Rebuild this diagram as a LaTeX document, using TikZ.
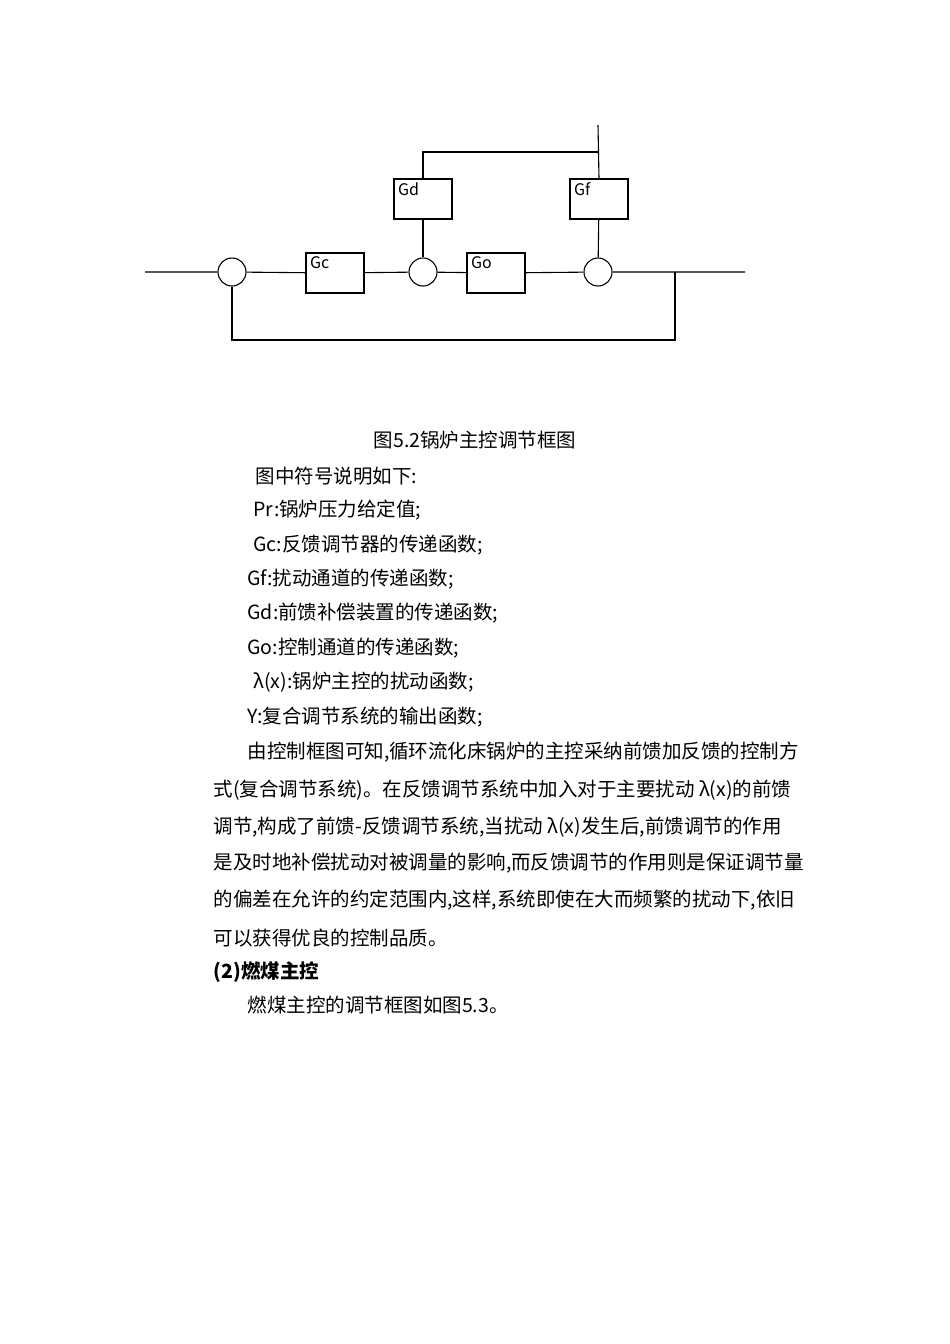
\documentclass[tikz,border=0pt]{standalone}
\usepackage{fontspec}
\setmainfont{Noto Sans CJK SC}
\begin{document}
\begin{tikzpicture}[x=1pt,y=-1pt,line width=1.1pt,
  blk/.style={draw,minimum width=58pt,minimum height=40pt,inner sep=0pt},
  sj/.style={draw,circle,minimum size=28pt,inner sep=0pt},
  lbl/.style={anchor=north west,inner sep=4pt,font=\fontsize{16}{18}\selectfont},
  txt/.style={anchor=west,inner sep=0pt,font=\fontsize{19.5}{22}\selectfont}]
\useasboundingbox (0,0) rectangle (950,1344);
\node[sj] (s1) at (232,272) {};
\node[sj] (s2) at (423,272) {};
\node[sj] (s3) at (598,272) {};
\node[blk] (gc) at (335,273) {};
\node[blk] (go) at (496,273) {};
\node[blk] (gd) at (423,199) {};
\node[blk] (gf) at (599,199) {};
\node[lbl] (lgc) at (gc.north west) {Gc};
\node[lbl] (lgo) at (go.north west) {Go};
\node[lbl] (lgd) at (gd.north west) {Gd};
\node[lbl] (lgf) at (gf.north west) {Gf};
\coordinate (in) at (145,272);
\coordinate (out) at (745,272);
\coordinate (top) at (598,125);
\coordinate (tj) at (598,152);
\coordinate (tl) at (423,152);
\coordinate (fb) at (675,272);
\coordinate (fb1) at (675,340);
\coordinate (fb2) at (232,340);
\draw (in) -- (s1) -- (gc) -- (s2) -- (go) -- (s3) -- (out);
\draw (top) -- (gf.north); \draw (gf) -- (s3);
\draw (tj) -- (tl) -- (gd.north); \draw (gd) -- (s2);
\draw (fb) -- (fb1) -- (fb2) -- (s1.south);
\node[anchor=center,inner sep=0pt,font=\fontsize{19.5}{22}\selectfont] (cap) at (475,440) {图5.2锅炉主控调节框图};
\node[txt] (t1) at (255,476) {图中符号说明如下:};
\node[txt] (t2) at (253,510) {Pr:锅炉压力给定值;};
\node[txt] (t3) at (253,545) {Gc:反馈调节器的传递函数;};
\node[txt] (t4) at (247,579) {Gf:扰动通道的传递函数;};
\node[txt] (t5) at (247,613) {Gd:前馈补偿装置的传递函数;};
\node[txt] (t6) at (247,648) {Go:控制通道的传递函数;};
\node[txt] (t7) at (253,682) {λ(x):锅炉主控的扰动函数;};
\node[txt] (t8) at (247,717) {Y:复合调节系统的输出函数;};
\node[txt] (p1) at (247,752) {由控制框图可知,循环流化床锅炉的主控采纳前馈加反馈的控制方};
\node[txt] (p2) at (213,790) {式(复合调节系统)。在反馈调节系统中加入对于主要扰动 λ(x)的前馈};
\node[txt] (p3) at (213,827) {调节,构成了前馈-反馈调节系统,当扰动 λ(x)发生后,前馈调节的作用};
\node[txt] (p4) at (213,863) {是及时地补偿扰动对被调量的影响,而反馈调节的作用则是保证调节量};
\node[txt] (p5) at (213,900) {的偏差在允许的约定范围内,这样,系统即使在大而频繁的扰动下,依旧};
\node[txt] (p6) at (213,938) {可以获得优良的控制品质。};
\node[txt,font=\fontsize{19.5}{22}\selectfont\bfseries] (h2) at (213,972) {(2)燃煤主控};
\node[txt] (p7) at (247,1005) {燃煤主控的调节框图如图5.3。};
\end{tikzpicture}
\end{document}
